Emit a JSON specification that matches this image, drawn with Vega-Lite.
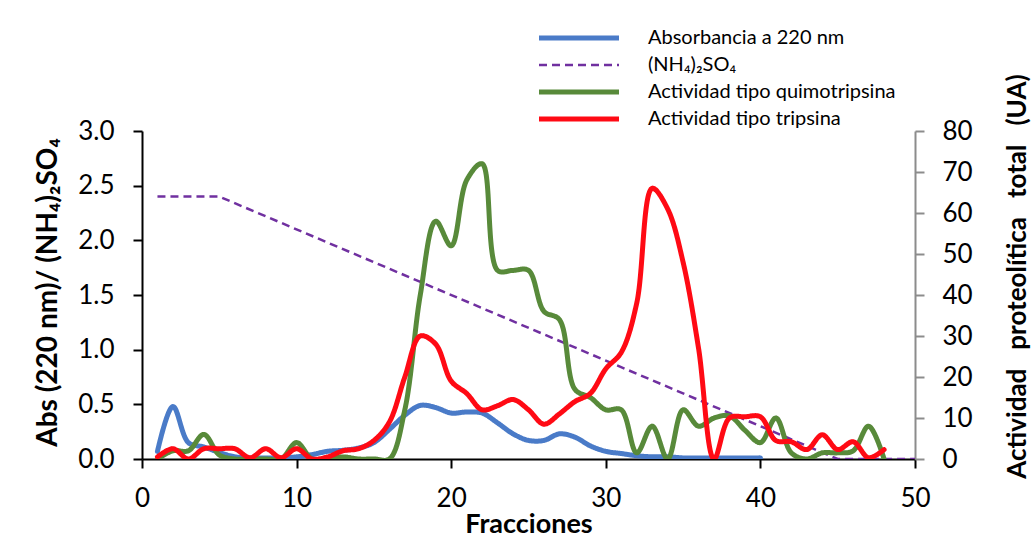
{
  "$schema": "https://vega.github.io/schema/vega-lite/v6.json",
  "width": 773,
  "height": 328,
  "autosize": {"type": "none"},
  "padding": {"left": 142, "top": 131, "right": 118, "bottom": 87},
  "background": "white",
  "config": {
    "font": "Lato",
    "view": {"stroke": null},
    "axis": {"grid": false, "labelFont": "Lato", "titleFont": "Lato", "labelColor": "black", "titleColor": "black"}
  },
  "datasets": {
    "datos": [
      {"serie": "Absorbancia a 220 nm", "fraccion": 1, "valor": 0.07},
      {"serie": "Absorbancia a 220 nm", "fraccion": 2, "valor": 0.48},
      {"serie": "Absorbancia a 220 nm", "fraccion": 3, "valor": 0.15},
      {"serie": "Absorbancia a 220 nm", "fraccion": 4, "valor": 0.11},
      {"serie": "Absorbancia a 220 nm", "fraccion": 5, "valor": 0.06},
      {"serie": "Absorbancia a 220 nm", "fraccion": 6, "valor": 0.02},
      {"serie": "Absorbancia a 220 nm", "fraccion": 7, "valor": 0.01},
      {"serie": "Absorbancia a 220 nm", "fraccion": 8, "valor": 0.01},
      {"serie": "Absorbancia a 220 nm", "fraccion": 9, "valor": 0.01},
      {"serie": "Absorbancia a 220 nm", "fraccion": 10, "valor": 0.02},
      {"serie": "Absorbancia a 220 nm", "fraccion": 11, "valor": 0.04},
      {"serie": "Absorbancia a 220 nm", "fraccion": 12, "valor": 0.07},
      {"serie": "Absorbancia a 220 nm", "fraccion": 13, "valor": 0.08},
      {"serie": "Absorbancia a 220 nm", "fraccion": 14, "valor": 0.1},
      {"serie": "Absorbancia a 220 nm", "fraccion": 15, "valor": 0.15},
      {"serie": "Absorbancia a 220 nm", "fraccion": 16, "valor": 0.27},
      {"serie": "Absorbancia a 220 nm", "fraccion": 17, "valor": 0.4},
      {"serie": "Absorbancia a 220 nm", "fraccion": 18, "valor": 0.49},
      {"serie": "Absorbancia a 220 nm", "fraccion": 19, "valor": 0.47},
      {"serie": "Absorbancia a 220 nm", "fraccion": 20, "valor": 0.42},
      {"serie": "Absorbancia a 220 nm", "fraccion": 21, "valor": 0.43},
      {"serie": "Absorbancia a 220 nm", "fraccion": 22, "valor": 0.42},
      {"serie": "Absorbancia a 220 nm", "fraccion": 23, "valor": 0.33},
      {"serie": "Absorbancia a 220 nm", "fraccion": 24, "valor": 0.23},
      {"serie": "Absorbancia a 220 nm", "fraccion": 25, "valor": 0.17},
      {"serie": "Absorbancia a 220 nm", "fraccion": 26, "valor": 0.17},
      {"serie": "Absorbancia a 220 nm", "fraccion": 27, "valor": 0.23},
      {"serie": "Absorbancia a 220 nm", "fraccion": 28, "valor": 0.2},
      {"serie": "Absorbancia a 220 nm", "fraccion": 29, "valor": 0.12},
      {"serie": "Absorbancia a 220 nm", "fraccion": 30, "valor": 0.07},
      {"serie": "Absorbancia a 220 nm", "fraccion": 31, "valor": 0.05},
      {"serie": "Absorbancia a 220 nm", "fraccion": 32, "valor": 0.03},
      {"serie": "Absorbancia a 220 nm", "fraccion": 33, "valor": 0.02},
      {"serie": "Absorbancia a 220 nm", "fraccion": 34, "valor": 0.02},
      {"serie": "Absorbancia a 220 nm", "fraccion": 35, "valor": 0.01},
      {"serie": "Absorbancia a 220 nm", "fraccion": 36, "valor": 0.01},
      {"serie": "Absorbancia a 220 nm", "fraccion": 37, "valor": 0.01},
      {"serie": "Absorbancia a 220 nm", "fraccion": 38, "valor": 0.01},
      {"serie": "Absorbancia a 220 nm", "fraccion": 39, "valor": 0.01},
      {"serie": "Absorbancia a 220 nm", "fraccion": 40, "valor": 0.01},
      {"serie": "(NH₄)₂SO₄", "fraccion": 1, "valor": 2.4},
      {"serie": "(NH₄)₂SO₄", "fraccion": 5, "valor": 2.4},
      {"serie": "(NH₄)₂SO₄", "fraccion": 45, "valor": 0},
      {"serie": "(NH₄)₂SO₄", "fraccion": 50, "valor": 0},
      {"serie": "Actividad tipo quimotripsina", "fraccion": 1, "valor": 0},
      {"serie": "Actividad tipo quimotripsina", "fraccion": 2, "valor": 2},
      {"serie": "Actividad tipo quimotripsina", "fraccion": 3, "valor": 2},
      {"serie": "Actividad tipo quimotripsina", "fraccion": 4, "valor": 6},
      {"serie": "Actividad tipo quimotripsina", "fraccion": 5, "valor": 1},
      {"serie": "Actividad tipo quimotripsina", "fraccion": 6, "valor": 0},
      {"serie": "Actividad tipo quimotripsina", "fraccion": 7, "valor": 0},
      {"serie": "Actividad tipo quimotripsina", "fraccion": 8, "valor": 0},
      {"serie": "Actividad tipo quimotripsina", "fraccion": 9, "valor": 0},
      {"serie": "Actividad tipo quimotripsina", "fraccion": 10, "valor": 4},
      {"serie": "Actividad tipo quimotripsina", "fraccion": 11, "valor": 0},
      {"serie": "Actividad tipo quimotripsina", "fraccion": 12, "valor": 0},
      {"serie": "Actividad tipo quimotripsina", "fraccion": 13, "valor": 0.5},
      {"serie": "Actividad tipo quimotripsina", "fraccion": 14, "valor": 0},
      {"serie": "Actividad tipo quimotripsina", "fraccion": 15, "valor": 0},
      {"serie": "Actividad tipo quimotripsina", "fraccion": 16, "valor": 0},
      {"serie": "Actividad tipo quimotripsina", "fraccion": 17, "valor": 12},
      {"serie": "Actividad tipo quimotripsina", "fraccion": 18, "valor": 40},
      {"serie": "Actividad tipo quimotripsina", "fraccion": 19, "valor": 58},
      {"serie": "Actividad tipo quimotripsina", "fraccion": 20, "valor": 52},
      {"serie": "Actividad tipo quimotripsina", "fraccion": 21, "valor": 68},
      {"serie": "Actividad tipo quimotripsina", "fraccion": 22, "valor": 72},
      {"serie": "Actividad tipo quimotripsina", "fraccion": 23, "valor": 46},
      {"serie": "Actividad tipo quimotripsina", "fraccion": 24, "valor": 46},
      {"serie": "Actividad tipo quimotripsina", "fraccion": 25, "valor": 46},
      {"serie": "Actividad tipo quimotripsina", "fraccion": 26, "valor": 36},
      {"serie": "Actividad tipo quimotripsina", "fraccion": 27, "valor": 34},
      {"serie": "Actividad tipo quimotripsina", "fraccion": 28, "valor": 17},
      {"serie": "Actividad tipo quimotripsina", "fraccion": 29, "valor": 15},
      {"serie": "Actividad tipo quimotripsina", "fraccion": 30, "valor": 12},
      {"serie": "Actividad tipo quimotripsina", "fraccion": 31, "valor": 12},
      {"serie": "Actividad tipo quimotripsina", "fraccion": 32, "valor": 1.5},
      {"serie": "Actividad tipo quimotripsina", "fraccion": 33, "valor": 8},
      {"serie": "Actividad tipo quimotripsina", "fraccion": 34, "valor": 0},
      {"serie": "Actividad tipo quimotripsina", "fraccion": 35, "valor": 12},
      {"serie": "Actividad tipo quimotripsina", "fraccion": 36, "valor": 8},
      {"serie": "Actividad tipo quimotripsina", "fraccion": 37, "valor": 10},
      {"serie": "Actividad tipo quimotripsina", "fraccion": 38, "valor": 10.5},
      {"serie": "Actividad tipo quimotripsina", "fraccion": 39, "valor": 7},
      {"serie": "Actividad tipo quimotripsina", "fraccion": 40, "valor": 4},
      {"serie": "Actividad tipo quimotripsina", "fraccion": 41, "valor": 10},
      {"serie": "Actividad tipo quimotripsina", "fraccion": 42, "valor": 1.5},
      {"serie": "Actividad tipo quimotripsina", "fraccion": 43, "valor": 0},
      {"serie": "Actividad tipo quimotripsina", "fraccion": 44, "valor": 1.5},
      {"serie": "Actividad tipo quimotripsina", "fraccion": 45, "valor": 1.5},
      {"serie": "Actividad tipo quimotripsina", "fraccion": 46, "valor": 2},
      {"serie": "Actividad tipo quimotripsina", "fraccion": 47, "valor": 8},
      {"serie": "Actividad tipo quimotripsina", "fraccion": 48, "valor": 0},
      {"serie": "Actividad tipo tripsina", "fraccion": 1, "valor": 0.5},
      {"serie": "Actividad tipo tripsina", "fraccion": 2, "valor": 2.5},
      {"serie": "Actividad tipo tripsina", "fraccion": 3, "valor": 0},
      {"serie": "Actividad tipo tripsina", "fraccion": 4, "valor": 2.5},
      {"serie": "Actividad tipo tripsina", "fraccion": 5, "valor": 2.5},
      {"serie": "Actividad tipo tripsina", "fraccion": 6, "valor": 2.5},
      {"serie": "Actividad tipo tripsina", "fraccion": 7, "valor": 0.3},
      {"serie": "Actividad tipo tripsina", "fraccion": 8, "valor": 2.5},
      {"serie": "Actividad tipo tripsina", "fraccion": 9, "valor": 0.3},
      {"serie": "Actividad tipo tripsina", "fraccion": 10, "valor": 2.5},
      {"serie": "Actividad tipo tripsina", "fraccion": 11, "valor": 0},
      {"serie": "Actividad tipo tripsina", "fraccion": 12, "valor": 0.5},
      {"serie": "Actividad tipo tripsina", "fraccion": 13, "valor": 2},
      {"serie": "Actividad tipo tripsina", "fraccion": 14, "valor": 2.5},
      {"serie": "Actividad tipo tripsina", "fraccion": 15, "valor": 4.5},
      {"serie": "Actividad tipo tripsina", "fraccion": 16, "valor": 9},
      {"serie": "Actividad tipo tripsina", "fraccion": 17, "valor": 20},
      {"serie": "Actividad tipo tripsina", "fraccion": 18, "valor": 30},
      {"serie": "Actividad tipo tripsina", "fraccion": 19, "valor": 28},
      {"serie": "Actividad tipo tripsina", "fraccion": 20, "valor": 19},
      {"serie": "Actividad tipo tripsina", "fraccion": 21, "valor": 16},
      {"serie": "Actividad tipo tripsina", "fraccion": 22, "valor": 12},
      {"serie": "Actividad tipo tripsina", "fraccion": 23, "valor": 13},
      {"serie": "Actividad tipo tripsina", "fraccion": 24, "valor": 14.5},
      {"serie": "Actividad tipo tripsina", "fraccion": 25, "valor": 12},
      {"serie": "Actividad tipo tripsina", "fraccion": 26, "valor": 8.5},
      {"serie": "Actividad tipo tripsina", "fraccion": 27, "valor": 11},
      {"serie": "Actividad tipo tripsina", "fraccion": 28, "valor": 14},
      {"serie": "Actividad tipo tripsina", "fraccion": 29, "valor": 16},
      {"serie": "Actividad tipo tripsina", "fraccion": 30, "valor": 22},
      {"serie": "Actividad tipo tripsina", "fraccion": 31, "valor": 26},
      {"serie": "Actividad tipo tripsina", "fraccion": 32, "valor": 38},
      {"serie": "Actividad tipo tripsina", "fraccion": 33, "valor": 66},
      {"serie": "Actividad tipo tripsina", "fraccion": 34, "valor": 61},
      {"serie": "Actividad tipo tripsina", "fraccion": 35, "valor": 48},
      {"serie": "Actividad tipo tripsina", "fraccion": 36, "valor": 27},
      {"serie": "Actividad tipo tripsina", "fraccion": 37, "valor": 0},
      {"serie": "Actividad tipo tripsina", "fraccion": 38, "valor": 10},
      {"serie": "Actividad tipo tripsina", "fraccion": 39, "valor": 10.3},
      {"serie": "Actividad tipo tripsina", "fraccion": 40, "valor": 10.3},
      {"serie": "Actividad tipo tripsina", "fraccion": 41, "valor": 4.5},
      {"serie": "Actividad tipo tripsina", "fraccion": 42, "valor": 4.2},
      {"serie": "Actividad tipo tripsina", "fraccion": 43, "valor": 2.3},
      {"serie": "Actividad tipo tripsina", "fraccion": 44, "valor": 5.9},
      {"serie": "Actividad tipo tripsina", "fraccion": 45, "valor": 2.3},
      {"serie": "Actividad tipo tripsina", "fraccion": 46, "valor": 4.2},
      {"serie": "Actividad tipo tripsina", "fraccion": 47, "valor": 0.3},
      {"serie": "Actividad tipo tripsina", "fraccion": 48, "valor": 2.3}
    ]
  },
  "data": {"name": "datos"},
  "encoding": {
    "x": {
      "field": "fraccion", "type": "quantitative",
      "scale": {"domain": [0, 50]},
      "axis": {
        "values": [0, 10, 20, 30, 40, 50], "title": "Fracciones",
        "titleFontSize": 27, "titleFontWeight": "bold", "titlePadding": 0,
        "labelFontSize": 26, "labelFlush": false, "labelOverlap": false, "labelPadding": 17,
        "tickSize": 9, "tickWidth": 2, "domainWidth": 2, "domainColor": "black", "tickColor": "black"
      }
    },
    "color": {
      "field": "serie", "type": "nominal",
      "scale": {
        "domain": ["Absorbancia a 220 nm", "(NH₄)₂SO₄", "Actividad tipo quimotripsina", "Actividad tipo tripsina"],
        "range": ["#4A7BC8", "#7030A0", "#588A3A", "#FF0A14"]
      },
      "legend": {
        "title": null, "orient": "none", "legendX": 427, "legendY": -103,
        "symbolType": "M-10,0H10", "symbolSize": 64, "labelOffset": 59,
        "labelFontSize": 20, "labelFont": "Lato", "labelColor": "black", "rowPadding": 7, "labelLimit": 400
      }
    },
    "strokeDash": {
      "field": "serie", "type": "nominal",
      "scale": {
        "domain": ["Absorbancia a 220 nm", "(NH₄)₂SO₄", "Actividad tipo quimotripsina", "Actividad tipo tripsina"],
        "range": [[1, 0], [8, 5], [1, 0], [1, 0]]
      },
      "legend": null
    },
    "strokeWidth": {
      "field": "serie", "type": "nominal",
      "scale": {
        "type": "ordinal",
        "domain": ["Absorbancia a 220 nm", "(NH₄)₂SO₄", "Actividad tipo quimotripsina", "Actividad tipo tripsina"],
        "range": [5, 2.5, 5, 5]
      },
      "legend": null
    }
  },
  "layer": [
    {
      "encoding": {
        "y": {
          "field": "valor", "type": "quantitative",
          "scale": {"domain": [0, 3]},
          "axis": {
            "values": [0, 0.5, 1, 1.5, 2, 2.5, 3], "format": ".1f",
            "title": "Abs (220 nm)/ (NH₄)₂SO₄",
            "titleFontSize": 28, "titleFontWeight": "bold",
            "titleX": -94, "titleY": 161, "titleBaseline": "middle", "titleAlign": "center", "titleAngle": 270,
            "labelFontSize": 26, "labelFlush": false, "labelOverlap": false, "labelPadding": 19,
            "tickSize": 9, "tickWidth": 2, "domainWidth": 2, "domainColor": "black", "tickColor": "black"
          }
        }
      },
      "layer": [
        {
          "transform": [{"filter": "datum.serie === 'Absorbancia a 220 nm'"}],
          "mark": {"type": "line", "interpolate": "catmull-rom", "clip": true, "strokeCap": "round"}
        },
        {
          "transform": [{"filter": "datum.serie === '(NH₄)₂SO₄'"}],
          "mark": {"type": "line", "clip": true}
        }
      ]
    },
    {
      "transform": [{"filter": "datum.serie === 'Actividad tipo quimotripsina' || datum.serie === 'Actividad tipo tripsina'"}],
      "mark": {"type": "line", "interpolate": "catmull-rom", "clip": true, "strokeCap": "round"},
      "encoding": {
        "y": {
          "field": "valor", "type": "quantitative",
          "scale": {"domain": [0, 80]},
          "axis": {
            "orient": "right",
            "values": [0, 10, 20, 30, 40, 50, 60, 70, 80],
            "title": "Actividad\u00a0\u00a0\u00a0proteolítica\u00a0\u00a0\u00a0total\u00a0\u00a0\u00a0(UA)",
            "titleFontSize": 26, "titleFontWeight": "bold",
            "titleX": 102, "titleY": 145, "titleBaseline": "middle", "titleAlign": "center", "titleAngle": 270,
            "labelFontSize": 26, "labelFlush": false, "labelOverlap": false, "labelPadding": 18,
            "tickSize": 9, "tickWidth": 2, "domainWidth": 2, "domainColor": "#8C8C8C", "tickColor": "#8C8C8C"
          }
        }
      }
    }
  ],
  "resolve": {"scale": {"y": "independent"}}
}
